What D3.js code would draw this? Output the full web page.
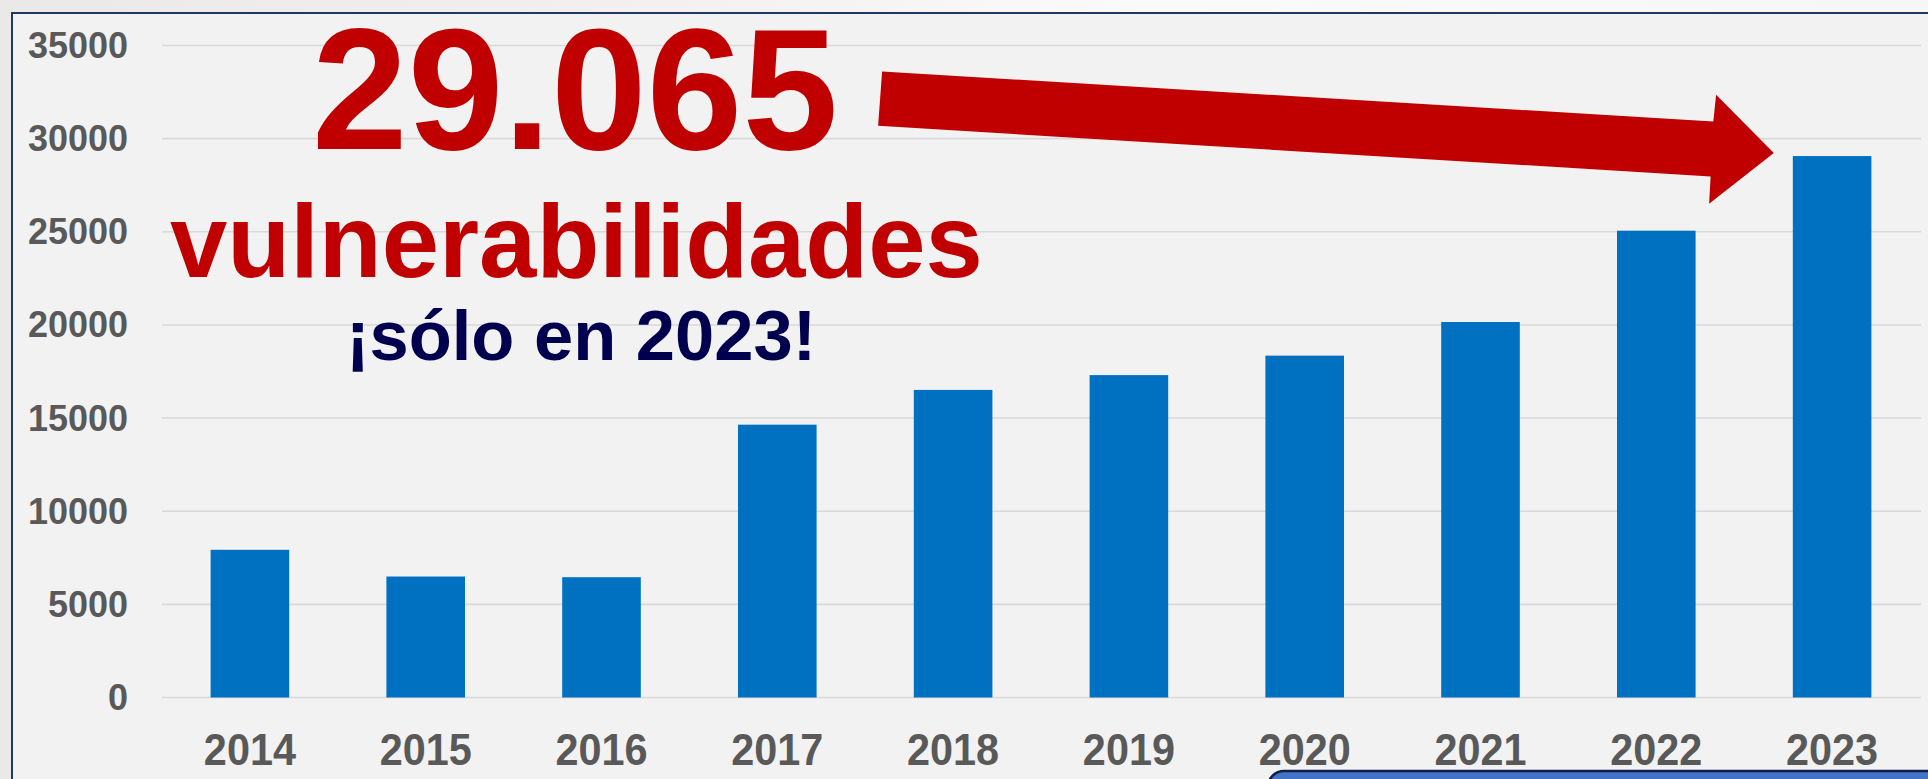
<!DOCTYPE html>
<html>
<head>
<meta charset="utf-8">
<script src="https://cdn.jsdelivr.net/npm/d3@7/dist/d3.min.js"></script>
<style>
  html, body { margin: 0; padding: 0; background: #efecec; }
  svg { display: block; }
  text { font-family: "Liberation Sans", Arial, sans-serif; font-weight: bold; }
</style>
</head>
<body>
<svg id="chart" width="1928" height="779"></svg>
<script>
// ---- data ----
const years = ["2014","2015","2016","2017","2018","2019","2020","2021","2022","2023"];
const vulnerabilities = [7928, 6494, 6457, 14645, 16512, 17306, 18351, 20157, 25059, 29065];
const yTicks = [0, 5000, 10000, 15000, 20000, 25000, 30000, 35000];
const headline = "29.065";
const subline = "vulnerabilidades";
const tagline = "¡sólo en 2023!";
const highlightYear = "2023";

const W = 1928, H = 779;
const svg = d3.select("#chart");

// background outside the panel
const defs = svg.append("defs");
const bg = defs.append("linearGradient").attr("id", "bg").attr("x1", 0).attr("x2", 1).attr("y1", 0).attr("y2", 0);
bg.append("stop").attr("offset", "0%").attr("stop-color", "#ebe8e8");
bg.append("stop").attr("offset", "35%").attr("stop-color", "#f4f0f0");
bg.append("stop").attr("offset", "60%").attr("stop-color", "#fbfafa");
bg.append("stop").attr("offset", "100%").attr("stop-color", "#f6f6f6");
svg.append("rect").attr("width", W).attr("height", H).attr("fill", "url(#bg)");

// panel
svg.append("rect")
  .attr("x", 12).attr("y", 13).attr("width", W).attr("height", H)
  .attr("fill", "#f2f2f2").attr("stroke", "#1f3864").attr("stroke-width", 2);

// scales
const x = d3.scaleBand().domain(years).range([162, 1920]).paddingInner(0.553).paddingOuter(0.2765);
const y = d3.scaleLinear().domain([0, 35000]).range([697.5, 45.5]);

// gridlines
svg.append("g").selectAll("line").data(yTicks).join("line")
  .attr("x1", 162).attr("x2", 1921)
  .attr("y1", d => y(d)).attr("y2", d => y(d))
  .attr("stroke", "#d9d9d9").attr("stroke-width", 1.6);

// y labels
svg.append("g").selectAll("text").data(yTicks).join("text")
  .attr("x", 128).attr("y", d => y(d) + 12.5)
  .attr("text-anchor", "end")
  .attr("font-size", 36).attr("fill", "#595959")
  .text(d => d);

// bars
svg.append("g").selectAll("rect").data(years).join("rect")
  .attr("x", d => x(d)).attr("width", x.bandwidth())
  .attr("y", (d, i) => y(vulnerabilities[i]))
  .attr("height", (d, i) => y(0) - y(vulnerabilities[i]))
  .attr("fill", "#0070c0");

// x labels
svg.append("g").selectAll("text").data(years).join("text")
  .attr("transform", d => `translate(${x(d) + x.bandwidth() / 2},765) scale(0.92,1)`)
  .attr("text-anchor", "middle")
  .attr("font-size", 45).attr("fill", "#595959")
  .text(d => d);

// annotation arrow pointing at the highlighted bar
const hi = years.indexOf(highlightYear);
const tx = x(highlightYear) - 19, ty = y(vulnerabilities[hi]) - 3;
const rel = [[-891.7, -81.6], [-60.5, -31.6], [-57.7, -58.3], [0, 0], [-64.7, 50.7], [-63.2, 23.4], [-895.7, -27.3]];
svg.append("polygon")
  .attr("points", rel.map(p => [tx + p[0], ty + p[1]].join(",")).join(" "))
  .attr("fill", "#c00000");

// headline texts
svg.append("text").attr("x", 312).attr("y", 149)
  .attr("font-size", 172).attr("fill", "#c00000").text(headline);
svg.append("text").attr("x", 170).attr("y", 277)
  .attr("font-size", 103).attr("fill", "#c00000").text(subline);
svg.append("text").attr("x", 346).attr("y", 360)
  .attr("font-size", 70.5).attr("fill", "#00004f").text(tagline);

// bottom-right box
svg.append("rect")
  .attr("x", 1268).attr("y", 771).attr("width", 720).attr("height", 60).attr("rx", 16)
  .attr("fill", "#4472c4").attr("stroke", "#0b1f4d").attr("stroke-width", 2.5);
</script>
</body>
</html>
